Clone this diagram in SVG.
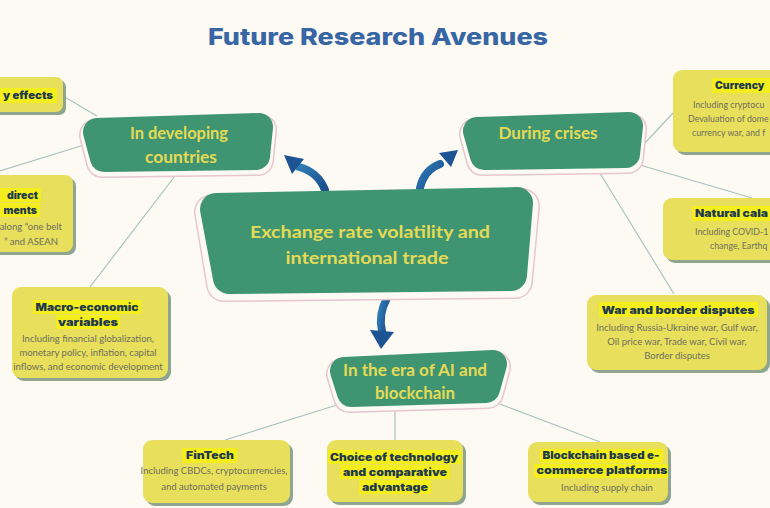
<svg xmlns="http://www.w3.org/2000/svg" width="770" height="508" viewBox="0 0 770 508">
<defs>
<linearGradient id="ag" x1="0" y1="0" x2="1" y2="1">
<stop offset="0" stop-color="#2f7db5"/>
<stop offset="1" stop-color="#1a4c8c"/>
</linearGradient>
<style>
.bg{fill:#fcfaf3}
.title{font-family:Inter,"Liberation Sans",sans-serif;font-weight:800;font-size:23px;fill:#3866a4}
.gring{fill:none;stroke:#e7c6cf;stroke-linejoin:round}
.gcut{fill:#fcfaf3;stroke:#fcfaf3;stroke-linejoin:round}
.gnode{fill:#3f9572;stroke:#3f9572;stroke-linejoin:round}
.gtext{font-family:Lato,"Open Sans",sans-serif;font-weight:700;font-size:17px;fill:#e5da55;text-anchor:middle}
.ybox{fill:#e8df5d}
.yshadow{fill:#8fa58f}
.hl{fill:#f4ee1c}
.yt{font-family:Inter,"Liberation Sans",sans-serif;font-weight:900;font-size:10.5px;fill:#1f3a4e;text-anchor:middle}
.ys{font-family:Lato,"Liberation Sans",sans-serif;font-size:9.5px;fill:#6d705c;text-anchor:middle}
.ye{font-size:8.8px}
.conn line{stroke:#a9c4bf;stroke-width:1.2}
.arrow path{fill:none;stroke:url(#ag);stroke-width:8;stroke-linecap:round}
.arrow polygon{fill:#1d5493}
</style>
</defs>
<rect class="bg" x="0" y="0" width="770" height="508"/>
<text class="title" x="378" y="45" text-anchor="middle" textLength="340" lengthAdjust="spacingAndGlyphs">Future Research Avenues</text>

<g id="connectors" class="conn">
<line x1="97" y1="116" x2="63" y2="96"/>
<line x1="84" y1="145" x2="0" y2="171"/>
<line x1="178" y1="172" x2="90" y2="287"/>
<line x1="645" y1="143" x2="673" y2="113"/>
<line x1="640" y1="165" x2="752" y2="198"/>
<line x1="598" y1="170" x2="674" y2="294"/>
<line x1="337" y1="405" x2="225" y2="440"/>
<line x1="395" y1="408" x2="395" y2="440"/>
<line x1="500" y1="404" x2="600" y2="442"/>
</g>

<g id="arrows" class="arrow">
<path d="M325 190 Q318 172 299 167"/>
<polygon points="284,155 304,159 292,174"/>
<path d="M420 188 Q424 170 440 164"/>
<polygon points="458,150 451,167 439,153"/>
<path d="M387 298 Q378 315 382 331"/>
<polygon points="370,330 394,332 381,349"/>
</g>

<g id="central">
<polygon class="gring" stroke-width="36" points="212,212 522,206 515,281 224,284"/>
<polygon class="gcut" stroke-width="33" points="212,212 522,206 515,281 224,284"/>
<polygon class="gnode" stroke-width="32" points="216,209 517,203 511,275 229,278"/>
<text class="gtext" x="370" y="238" font-size="18" textLength="240" lengthAdjust="spacingAndGlyphs">Exchange rate volatility and</text>
<text class="gtext" x="367" y="264" font-size="18" textLength="163" lengthAdjust="spacingAndGlyphs">international trade</text>
</g>

<g id="developing">
<polygon class="gring" stroke-width="32" points="95,135 261,130 258,160 102,162"/>
<polygon class="gcut" stroke-width="29" points="95,135 261,130 258,160 102,162"/>
<polygon class="gnode" stroke-width="28" points="97,132 259,127 256,156 104,158"/>
<text class="gtext" x="179" y="139" textLength="98" lengthAdjust="spacingAndGlyphs">In developing</text>
<text class="gtext" x="181" y="163" textLength="72" lengthAdjust="spacingAndGlyphs">countries</text>
</g>

<g id="crises">
<polygon class="gring" stroke-width="32" points="475,134 631,129 628,158 482,160"/>
<polygon class="gcut" stroke-width="29" points="475,134 631,129 628,158 482,160"/>
<polygon class="gnode" stroke-width="28" points="477,131 629,126 626,154 484,156"/>
<text class="gtext" x="548" y="139" textLength="99" lengthAdjust="spacingAndGlyphs">During crises</text>
</g>

<g id="ai">
<polygon class="gring" stroke-width="32" points="342,374 495,367 488,393 349,397"/>
<polygon class="gcut" stroke-width="29" points="342,374 495,367 488,393 349,397"/>
<polygon class="gnode" stroke-width="28" points="344,371 493,364 486,389 351,393"/>
<text class="gtext" x="415" y="376" textLength="144" lengthAdjust="spacingAndGlyphs">In the era of AI and</text>
<text class="gtext" x="415" y="399" textLength="80" lengthAdjust="spacingAndGlyphs">blockchain</text>
</g>

<g id="spillover">
<rect class="yshadow" x="-17" y="80" width="83" height="35" rx="7"/>
<rect class="ybox" x="-20" y="77" width="83" height="35" rx="7"/>
<rect class="hl" x="0" y="88" width="57" height="15"/>
<text class="yt" x="53" y="99" style="text-anchor:end" textLength="50" lengthAdjust="spacingAndGlyphs">y effects</text>
</g>

<g id="fdi">
<rect class="yshadow" x="-17" y="178" width="93" height="77" rx="8"/>
<rect class="ybox" x="-20" y="175" width="93" height="77" rx="8"/>
<rect class="hl" x="0" y="188" width="41" height="14"/>
<rect class="hl" x="0" y="203" width="40" height="14"/>
<text class="yt" x="38" y="199" style="text-anchor:end">direct</text>
<text class="yt" x="37" y="214" style="text-anchor:end">ments</text>
<text class="ys" x="62" y="230" style="text-anchor:end">along “one belt</text>
<text class="ys" x="58" y="245" style="text-anchor:end">” and ASEAN</text>
</g>

<g id="macro">
<rect class="yshadow" x="15" y="290" width="156" height="91" rx="9"/>
<rect class="ybox" x="12" y="287" width="156" height="91" rx="9"/>
<rect class="hl" x="33" y="300" width="108" height="14"/>
<rect class="hl" x="56" y="315" width="64" height="14"/>
<text class="yt" x="87" y="311" textLength="103" lengthAdjust="spacingAndGlyphs">Macro-economic</text>
<text class="yt" x="88" y="326" textLength="60" lengthAdjust="spacingAndGlyphs">variables</text>
<text class="ys" x="88" y="342">Including financial globalization,</text>
<text class="ys" x="88" y="356">monetary policy, inflation, capital</text>
<text class="ys" x="88" y="370">inflows, and economic development</text>
</g>

<g id="currency">
<rect class="yshadow" x="676" y="73" width="120" height="82" rx="9"/>
<rect class="ybox" x="673" y="70" width="120" height="82" rx="9"/>
<rect class="hl" x="712" y="78" width="58" height="15"/>
<text class="yt" x="715" y="89" style="text-anchor:start">Currency</text>
<text class="ys ye" x="693" y="108" style="text-anchor:start">Including cryptocu</text>
<text class="ys ye" x="688" y="122" style="text-anchor:start">Devaluation of dome</text>
<text class="ys ye" x="692" y="136" style="text-anchor:start">currency war, and f</text>
</g>

<g id="natural">
<rect class="yshadow" x="666" y="201" width="130" height="62" rx="9"/>
<rect class="ybox" x="663" y="198" width="130" height="62" rx="9"/>
<rect class="hl" x="692" y="206" width="78" height="15"/>
<text class="yt" x="695" y="217" style="text-anchor:start" textLength="73" lengthAdjust="spacingAndGlyphs">Natural cala</text>
<text class="ys ye" x="695" y="235" style="text-anchor:start">Including COVID-1</text>
<text class="ys ye" x="710" y="249" style="text-anchor:start">change, Earthq</text>
</g>

<g id="war">
<rect class="yshadow" x="590" y="298" width="180" height="75" rx="9"/>
<rect class="ybox" x="587" y="295" width="180" height="75" rx="9"/>
<rect class="hl" x="599" y="302" width="159" height="15"/>
<text class="yt" x="678" y="314" textLength="153" lengthAdjust="spacingAndGlyphs">War and border disputes</text>
<text class="ys" x="677" y="331">Including Russia-Ukraine war, Gulf war,</text>
<text class="ys" x="677" y="345">Oil price war, Trade war, Civil war,</text>
<text class="ys" x="677" y="359">Border disputes</text>
</g>

<g id="fintech">
<rect class="yshadow" x="146" y="443" width="147" height="63" rx="9"/>
<rect class="ybox" x="143" y="440" width="147" height="63" rx="9"/>
<rect class="hl" x="182" y="448" width="55" height="15"/>
<text class="yt" x="210" y="459" textLength="48" lengthAdjust="spacingAndGlyphs">FinTech</text>
<text class="ys" x="214" y="474">Including CBDCs, cryptocurrencies,</text>
<text class="ys" x="214" y="490">and automated payments</text>
</g>

<g id="choice">
<rect class="yshadow" x="330" y="443" width="136" height="62" rx="9"/>
<rect class="ybox" x="327" y="440" width="136" height="62" rx="9"/>
<rect class="hl" x="328" y="450" width="133" height="14"/>
<rect class="hl" x="340" y="465" width="110" height="14"/>
<rect class="hl" x="359" y="480" width="72" height="14"/>
<text class="yt" x="394" y="461" textLength="128" lengthAdjust="spacingAndGlyphs">Choice of technology</text>
<text class="yt" x="395" y="476" textLength="104" lengthAdjust="spacingAndGlyphs">and comparative</text>
<text class="yt" x="395" y="491" textLength="66" lengthAdjust="spacingAndGlyphs">advantage</text>
</g>

<g id="blockchain">
<rect class="yshadow" x="531" y="445" width="140" height="60" rx="9"/>
<rect class="ybox" x="528" y="442" width="140" height="60" rx="9"/>
<rect class="hl" x="540" y="449" width="123" height="14"/>
<rect class="hl" x="534" y="464" width="134" height="14"/>
<text class="yt" x="601" y="459" textLength="117" lengthAdjust="spacingAndGlyphs">Blockchain based e-</text>
<text class="yt" x="602" y="474" textLength="131" lengthAdjust="spacingAndGlyphs">commerce platforms</text>
<text class="ys" x="607" y="491">Including supply chain</text>
</g>
</svg>
